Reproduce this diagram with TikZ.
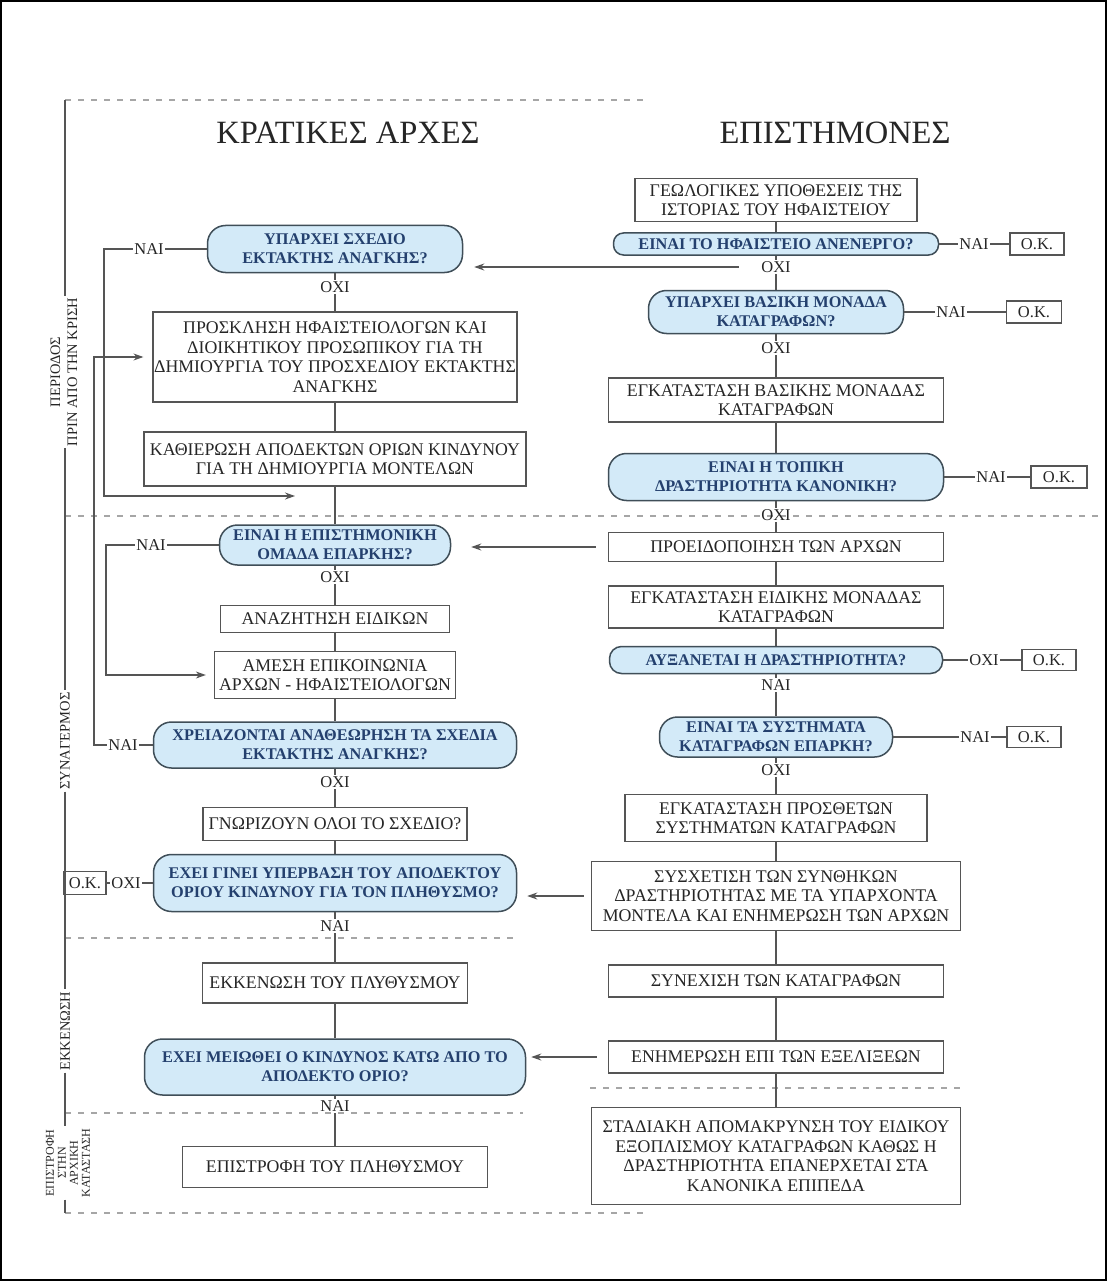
\documentclass[tikz,border=0pt]{standalone}
\usepackage{fontspec}
\setmainfont{Liberation Serif}
\usepackage{tikz}
\usetikzlibrary{arrows.meta,calc}
\definecolor{decfill}{HTML}{D3EAF8}
\definecolor{decline}{HTML}{3F4E58}
\definecolor{dectext}{HTML}{24406E}
\definecolor{boxline}{HTML}{555555}
\definecolor{ink}{HTML}{262626}
\tikzset{
  >={Stealth[length=10pt,width=7pt]},
  box/.style={rectangle, draw=boxline, line width=1.3pt, fill=white, text=ink, align=center,
              font=\fontsize{17.8}{19.5}\selectfont, inner sep=3pt},
  decision/.style={rectangle, rounded corners=18pt, draw=decline, line width=1.5pt, fill=decfill,
              text=dectext, align=center, font=\fontsize{16.3}{19}\selectfont\bfseries, inner sep=3pt},
  answer/.style={text=ink, font=\fontsize{16.5}{18}\selectfont, inner sep=1.5pt},
  okbox/.style={rectangle, draw=boxline, line width=1.3pt, text=ink,
              font=\fontsize{16.5}{18}\selectfont, inner sep=2pt},
  phaselabel/.style={rotate=90, text=ink, align=center, font=\fontsize{14.5}{17}\selectfont, inner sep=2pt},
  coltitle/.style={text=ink, font=\fontsize{32.5}{36}\selectfont},
  conn/.style={draw=boxline, line width=1.2pt},
  phaseline/.style={draw=gray!70, line width=1.2pt, dash pattern=on 6pt off 7pt}
}

\begin{document}
\begin{tikzpicture}[x=1pt,y=-1pt]
    \fill [white] (0,0) rectangle (1107,1281);
    \useasboundingbox (0,0) rectangle (1107,1281);
    \draw [line width=2pt] (1,1) rectangle (1106,1280);

    % Draw phase separators
    \draw [phaseline] (65,100) -- (645,100);
    \draw [phaseline] (65,516) -- (1100,516);
    \draw [phaseline] (65,938) -- (513,938);
    \draw [phaseline] (65,1113) -- (523,1113);
    \draw [phaseline] (590,1088) -- (960,1088);
    \draw [phaseline] (65,1213) -- (650,1213);

    % Phase axis
    \coordinate (axtop) at (65,100);
    \coordinate (axbot) at (65,1213);
    \node (ph1) at (64,372) [phaselabel] {ΠΕΡΙΟΔΟΣ\\ΠΡΙΝ ΑΠΟ ΤΗΝ ΚΡΙΣΗ};
    \node (ph2) at (65,741) [phaselabel] {ΣΥΝΑΓΕΡΜΟΣ};
    \node (ph3) at (65,1031) [phaselabel] {ΕΚΚΕΝΩΣΗ};
    \node (ph4) at (68,1163) [phaselabel, font=\fontsize{12}{12}\selectfont] {ΕΠΙΣΤΡΟΦΗ\\ΣΤΗΝ\\ΑΡΧΙΚΗ\\ΚΑΤΑΣΤΑΣΗ};
    \draw [conn] (axtop) -- (axtop |- ph1.east)
                 (axtop |- ph1.west) -- (ph2)
                 (ph2) -- (ph3)
                 (ph3) -- (ph3 |- ph4.east)
                 (ph3 |- ph4.west) -- (axbot);

    % Column titles
    \node (tleft) at (348,133) [coltitle] {ΚΡΑΤΙΚΕΣ ΑΡΧΕΣ};
    \node (tright) at (835,133) [coltitle] {ΕΠΙΣΤΗΜΟΝΕΣ};

    % Left column
    \node (q1) at (335,249) [decision, minimum width=255pt, minimum height=47pt] {ΥΠΑΡΧΕΙ ΣΧΕΔΙΟ\\ΕΚΤΑΚΤΗΣ ΑΝΑΓΚΗΣ?};
    \node (q1yes) at (149,249) [answer] {ΝΑΙ};
    \node (q1no) at (335,287) [answer] {ΟΧΙ};
    \node (b3) at (335,357) [box, inner xsep=1pt, minimum width=363pt, minimum height=90pt] {ΠΡΟΣΚΛΗΣΗ ΗΦΑΙΣΤΕΙΟΛΟΓΩΝ ΚΑΙ\\ΔΙΟΙΚΗΤΙΚΟΥ ΠΡΟΣΩΠΙΚΟΥ ΓΙΑ ΤΗ\\ΔΗΜΙΟΥΡΓΙΑ ΤΟΥ ΠΡΟΣΧΕΔΙΟΥ ΕΚΤΑΚΤΗΣ\\ΑΝΑΓΚΗΣ};
    \node (b4) at (335,459) [box, minimum width=382pt, minimum height=54pt] {ΚΑΘΙΕΡΩΣΗ ΑΠΟΔΕΚΤΩΝ ΟΡΙΩΝ ΚΙΝΔΥΝΟΥ\\ΓΙΑ ΤΗ ΔΗΜΙΟΥΡΓΙΑ ΜΟΝΤΕΛΩΝ};
    \coordinate (loopA) at (295,496);
    \node (q7) at (335,545) [decision, minimum width=231pt, minimum height=40pt] {ΕΙΝΑΙ Η ΕΠΙΣΤΗΜΟΝΙΚΗ\\ΟΜΑΔΑ ΕΠΑΡΚΗΣ?};
    \node (q7yes) at (151,545) [answer] {ΝΑΙ};
    \node (q7no) at (335,577) [answer] {ΟΧΙ};
    \node (b9) at (335,619) [box, minimum width=229pt, minimum height=27pt] {ΑΝΑΖΗΤΗΣΗ ΕΙΔΙΚΩΝ};
    \node (b10) at (335,675) [box, minimum width=241pt, minimum height=47pt] {ΑΜΕΣΗ ΕΠΙΚΟΙΝΩΝΙΑ\\ΑΡΧΩΝ - ΗΦΑΙΣΤΕΙΟΛΟΓΩΝ};
    \node (q11) at (335,745) [decision, minimum width=363pt, minimum height=46pt] {ΧΡΕΙΑΖΟΝΤΑΙ ΑΝΑΘΕΩΡΗΣΗ ΤΑ ΣΧΕΔΙΑ\\ΕΚΤΑΚΤΗΣ ΑΝΑΓΚΗΣ?};
    \node (q11yes) at (123,745) [answer] {ΝΑΙ};
    \node (q11no) at (335,782) [answer] {ΟΧΙ};
    \node (b13) at (335,824) [box, minimum width=264pt, minimum height=33pt] {ΓΝΩΡΙΖΟΥΝ ΟΛΟΙ ΤΟ ΣΧΕΔΙΟ?};
    \node (q14) at (335,883) [decision, minimum width=363pt, minimum height=57pt] {ΕΧΕΙ ΓΙΝΕΙ ΥΠΕΡΒΑΣΗ ΤΟΥ ΑΠΟΔΕΚΤΟΥ\\ΟΡΙΟΥ ΚΙΝΔΥΝΟΥ ΓΙΑ ΤΟΝ ΠΛΗΘΥΣΜΟ?};
    \node (q14no) at (126,883) [answer] {ΟΧΙ};
    \node (q14ok) at (85,883) [okbox, minimum width=42pt, minimum height=23pt] {Ο.Κ.};
    \node (q14yes) at (335,926) [answer] {ΝΑΙ};
    \node (b16) at (335,983) [box, minimum width=265pt, minimum height=40pt] {ΕΚΚΕΝΩΣΗ ΤΟΥ ΠΛΥΘΥΣΜΟΥ};
    \node (q17) at (335,1067) [decision, minimum width=381pt, minimum height=56pt] {ΕΧΕΙ ΜΕΙΩΘΕΙ Ο ΚΙΝΔΥΝΟΣ ΚΑΤΩ ΑΠΟ ΤΟ\\ΑΠΟΔΕΚΤΟ ΟΡΙΟ?};
    \node (q17yes) at (335,1106) [answer] {ΝΑΙ};
    \node (b19) at (335,1167) [box, minimum width=305pt, minimum height=41pt] {ΕΠΙΣΤΡΟΦΗ ΤΟΥ ΠΛΗΘΥΣΜΟΥ};

    % Right column
    \node (r1) at (776,200) [box, minimum width=282pt, minimum height=43pt] {ΓΕΩΛΟΓΙΚΕΣ ΥΠΟΘΕΣΕΙΣ ΤΗΣ\\ΙΣΤΟΡΙΑΣ ΤΟΥ ΗΦΑΙΣΤΕΙΟΥ};
    \node (r2) at (776,244) [decision, rounded corners=10pt, inner ysep=1pt, minimum width=325pt, minimum height=22pt] {ΕΙΝΑΙ ΤΟ ΗΦΑΙΣΤΕΙΟ ΑΝΕΝΕΡΓΟ?};
    \node (r2yes) at (974,244) [answer] {ΝΑΙ};
    \node (r2ok) at (1037,244) [okbox, minimum width=54pt, minimum height=22pt] {Ο.Κ.};
    \node (r2no) at (776,267) [answer] {ΟΧΙ};
    \node (r3) at (776,312) [decision, minimum width=255pt, minimum height=43pt] {ΥΠΑΡΧΕΙ ΒΑΣΙΚΗ ΜΟΝΑΔΑ\\ΚΑΤΑΓΡΑΦΩΝ?};
    \node (r3yes) at (951,312) [answer] {ΝΑΙ};
    \node (r3ok) at (1034,312) [okbox, minimum width=55pt, minimum height=22pt] {Ο.Κ.};
    \node (r3no) at (776,348) [answer] {ΟΧΙ};
    \node (r4) at (776,400) [box, minimum width=335pt, minimum height=44pt] {ΕΓΚΑΤΑΣΤΑΣΗ ΒΑΣΙΚΗΣ ΜΟΝΑΔΑΣ\\ΚΑΤΑΓΡΑΦΩΝ};
    \node (r5) at (776,477) [decision, minimum width=335pt, minimum height=47pt] {ΕΙΝΑΙ Η ΤΟΠΙΚΗ\\ΔΡΑΣΤΗΡΙΟΤΗΤΑ ΚΑΝΟΝΙΚΗ?};
    \node (r5yes) at (991,477) [answer] {ΝΑΙ};
    \node (r5ok) at (1059,477) [okbox, minimum width=56pt, minimum height=22pt] {Ο.Κ.};
    \node (r5no) at (776,515) [answer] {ΟΧΙ};
    \node (r6) at (776,547) [box, minimum width=335pt, minimum height=29pt] {ΠΡΟΕΙΔΟΠΟΙΗΣΗ ΤΩΝ ΑΡΧΩΝ};
    \node (r7) at (776,607) [box, minimum width=335pt, minimum height=42pt] {ΕΓΚΑΤΑΣΤΑΣΗ ΕΙΔΙΚΗΣ ΜΟΝΑΔΑΣ\\ΚΑΤΑΓΡΑΦΩΝ};
    \node (r8) at (776,660) [decision, rounded corners=12pt, inner ysep=1pt, minimum width=333pt, minimum height=27pt] {ΑΥΞΑΝΕΤΑΙ Η ΔΡΑΣΤΗΡΙΟΤΗΤΑ?};
    \node (r8no) at (984,660) [answer] {ΟΧΙ};
    \node (r8ok) at (1049,660) [okbox, minimum width=54pt, minimum height=21pt] {Ο.Κ.};
    \node (r8yes) at (776,685) [answer] {ΝΑΙ};
    \node (r9) at (776,737) [decision, minimum width=233pt, minimum height=40pt] {ΕΙΝΑΙ ΤΑ ΣΥΣΤΗΜΑΤΑ\\ΚΑΤΑΓΡΑΦΩΝ ΕΠΑΡΚΗ?};
    \node (r9yes) at (975,737) [answer] {ΝΑΙ};
    \node (r9ok) at (1034,737) [okbox, minimum width=54pt, minimum height=21pt] {Ο.Κ.};
    \node (r9no) at (776,770) [answer] {ΟΧΙ};
    \node (r10) at (776,818) [box, minimum width=302pt, minimum height=47pt] {ΕΓΚΑΤΑΣΤΑΣΗ ΠΡΟΣΘΕΤΩΝ\\ΣΥΣΤΗΜΑΤΩΝ ΚΑΤΑΓΡΑΦΩΝ};
    \node (r11) at (776,896) [box, minimum width=369pt, minimum height=69pt] {ΣΥΣΧΕΤΙΣΗ ΤΩΝ ΣΥΝΘΗΚΩΝ\\ΔΡΑΣΤΗΡΙΟΤΗΤΑΣ ΜΕ ΤΑ ΥΠΑΡΧΟΝΤΑ\\ΜΟΝΤΕΛΑ ΚΑΙ ΕΝΗΜΕΡΩΣΗ ΤΩΝ ΑΡΧΩΝ};
    \node (r12) at (776,981) [box, minimum width=335pt, minimum height=32pt] {ΣΥΝΕΧΙΣΗ ΤΩΝ ΚΑΤΑΓΡΑΦΩΝ};
    \node (r13) at (776,1057) [box, minimum width=335pt, minimum height=32pt] {ΕΝΗΜΕΡΩΣΗ ΕΠΙ ΤΩΝ ΕΞΕΛΙΞΕΩΝ};
    \node (r14) at (776,1156) [box, minimum width=369pt, minimum height=97pt] {ΣΤΑΔΙΑΚΗ ΑΠΟΜΑΚΡΥΝΣΗ ΤΟΥ ΕΙΔΙΚΟΥ\\ΕΞΟΠΛΙΣΜΟΥ ΚΑΤΑΓΡΑΦΩΝ ΚΑΘΩΣ Η\\ΔΡΑΣΤΗΡΙΟΤΗΤΑ ΕΠΑΝΕΡΧΕΤΑΙ ΣΤΑ\\ΚΑΝΟΝΙΚΑ ΕΠΙΠΕΔΑ};

    % Main flow lines
    \draw [conn] (q1) -- (q1no) -- (b3) -- (b4) -- (q7) -- (q7no) -- (b9) -- (b10) -- (q11)
                 -- (q11no) -- (b13) -- (q14) -- (q14yes) -- (b16) -- (q17) -- (q17yes) -- (b19);
    \draw [conn] (r1) -- (r2) -- (r2no) -- (r3) -- (r3no) -- (r4) -- (r5) -- (r5no) -- (r6) -- (r7)
                 -- (r8) -- (r8yes) -- (r9) -- (r9no) -- (r10) -- (r11) -- (r12) -- (r13) -- (r14);

    % Side answers
    \draw [conn] (r2) -- (r2yes) -- (r2ok);
    \draw [conn] (r3) -- (r3yes) -- (r3ok);
    \draw [conn] (r5) -- (r5yes) -- (r5ok);
    \draw [conn] (r8) -- (r8no) -- (r8ok);
    \draw [conn] (r9) -- (r9yes) -- (r9ok);
    \draw [conn] (q14) -- (q14no) -- (q14ok);

    % Loops on the left
    \draw [conn] (q1) -- (q1yes);
    \draw [conn,->] (q1yes) -- (104,249) |- (loopA);
    \draw [conn] (q7) -- (q7yes);
    \draw [conn,->,shorten >=8pt] (q7yes) -- (106,545) |- (b10);
    \draw [conn] (q11) -- (q11yes);
    \draw [conn,->,shorten >=9pt] (q11yes) -- (94,745) |- (b3);

    % Messages from the scientists
    \draw [conn,->,shorten <=21pt,shorten >=11pt] (r2no.west) -- (r2no.west -| q1.east);
    \draw [conn,->,shorten <=12pt,shorten >=20pt] (r6.west) -- (r6.west -| q7.east);
    \draw [conn,->,shorten <=7pt,shorten >=10pt] (r11.west) -- (r11.west -| q14.east);
    \draw [conn,->,shorten <=11pt,shorten >=5pt] (r13.west) -- (r13.west -| q17.east);
\end{tikzpicture}
\end{document}
